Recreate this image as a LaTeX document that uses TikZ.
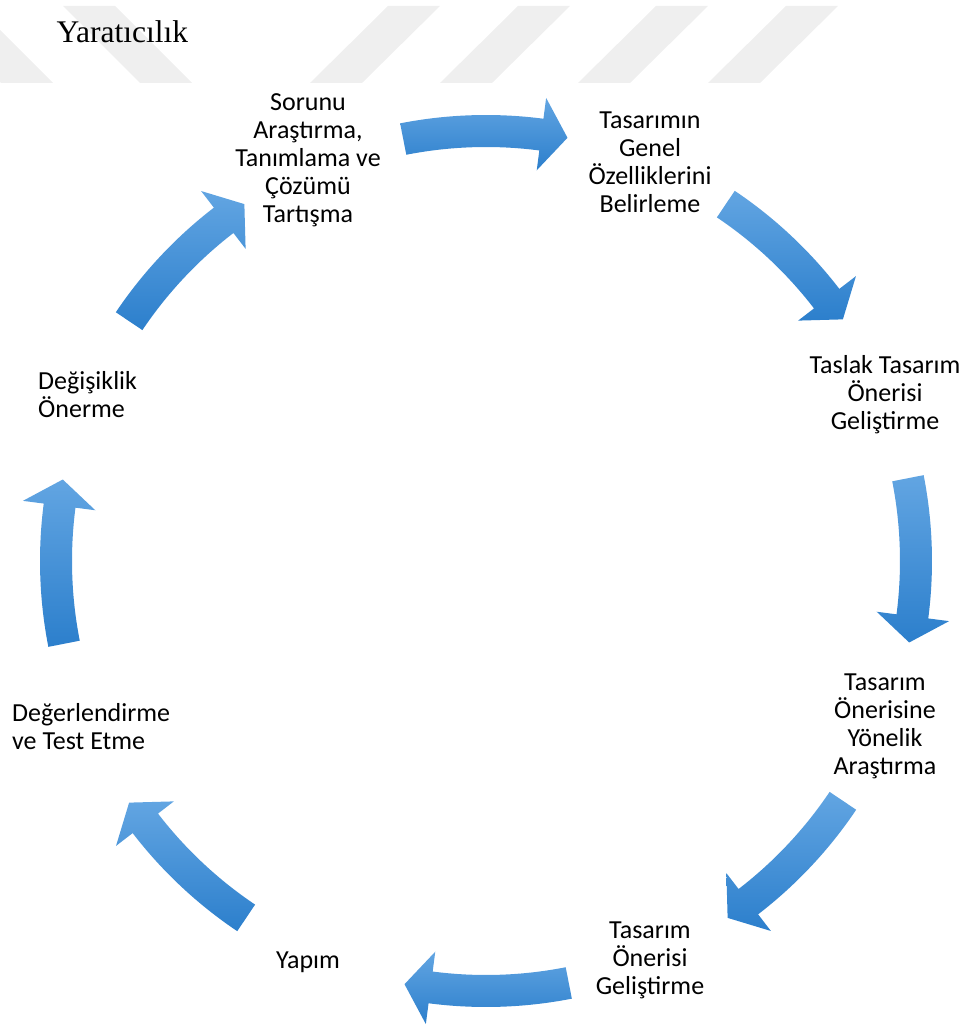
\documentclass[tikz,border=0pt]{standalone}
\usepackage{fontspec}
\setmainfont{Carlito}
\newfontfamily\baslikfont{Liberation Serif}
\definecolor{seritgri}{RGB}{239,239,239}
\definecolor{okacik}{RGB}{98,165,226}
\definecolor{okkoyu}{RGB}{44,127,204}

\begin{document}
\begin{tikzpicture}[
        x=1pt, y=1pt,
        adim/.style={align=center, inner sep=0pt, font=\fontsize{26}{28}\selectfont},
        adimsol/.style={adim, align=left, anchor=west},
        blokok/.style={top color=okacik, bottom color=okkoyu, draw=none},
        serit/.style={fill=seritgri, draw=none}
    ]
        \useasboundingbox (-486,-464) rectangle (483,561);

        % arka plandaki seritler
        \begin{scope}
            \clip (-486,-464) rectangle (483,561);
            \foreach \s in {-176,-46,92,222}
                \fill[serit] (\s,478) -- ++(52,0) -- ++(78,77) -- ++(-52,0) -- cycle;
            \foreach \s in {-485,-346}
                \fill[serit] (\s,478) -- ++(52,0) -- ++(-77,77) -- ++(-52,0) -- cycle;
        \end{scope}

        \node[anchor=base west, font=\baslikfont\fontsize{31.5}{36}\selectfont] (baslik) at (-433,518) {Yaratıcılık};

        \node[adim] (sorun) at (-178,401) {Sorunu\\Araştırma,\\Tanımlama ve\\Çözümü\\Tartışma};
        \node[adim] (genel) at (164,399) {Tasarımın\\Genel\\Özelliklerini\\Belirleme};
        \node[adim] (taslak) at (399,166) {Taslak Tasarım\\Önerisi\\Geliştirme};
        \node[adim] (arastirma) at (399,-165) {Tasarım\\Önerisine\\Yönelik\\Araştırma};
        \node[adim] (gelistirme) at (164,-399) {Tasarım\\Önerisi\\Geliştirme};
        \node[adim] (yapim) at (-178,-401) {Yapım};
        \node[adimsol] (test) at (-474,-166) {Değerlendirme\\ve Test Etme};
        \node[adimsol] (degisiklik) at (-448,166) {Değişiklik\\Önerme};

        % dongu oklari
        \foreach \a in {90,45,...,-225}
            \path[blokok] ({\a+11.1}:446) arc[start angle=\a+11.1, end angle=\a-7.4, radius=446]
                -- ({\a-7.4}:467) -- ({\a-10.9}:431) -- ({\a-7.4}:394) -- ({\a-7.4}:414)
                arc[start angle=\a-7.4, end angle=\a+11.1, radius=414] -- cycle;
    \end{tikzpicture}
\end{document}
